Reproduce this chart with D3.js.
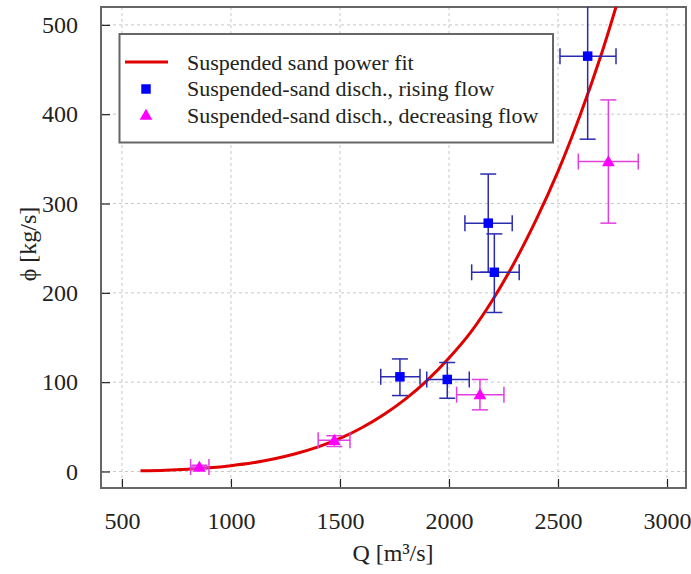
<!DOCTYPE html>
<html><head><meta charset="utf-8">
<script src="https://cdn.jsdelivr.net/npm/d3@7/dist/d3.min.js"></script>
<style>body{margin:0;background:#fff}</style>
</head><body><svg id="c" width="691" height="574"></svg>
<script>
// Power fit curve
const fitQ   = [585, 700, 800, 900, 1000, 1100, 1200, 1300, 1400, 1500, 1600, 1700, 1800, 1900, 2000, 2100, 2200, 2300, 2400, 2500, 2600, 2700, 2800];
const fitPhi = [0.7, 1.4, 2.5, 4.1, 6.5, 9.7, 14.2, 20.1, 27.5, 37, 49, 63.5, 81, 102, 127, 156, 192, 234, 282, 336, 398, 468, 548];
// Rising flow
const riseQ    = [2636, 2180, 2208, 1775, 1992];
const riseQlo  = [2509, 2073, 2104, 1687, 1898];
const riseQhi  = [2766, 2290, 2322, 1867, 2093];
const risePhi  = [465, 278, 223, 106, 103];
const risePlo  = [372, 223, 178, 85, 82];
const risePhi_hi = [558, 333, 266, 126, 122];
// Decreasing flow
const decQ    = [2731, 2142, 1474, 855];
const decQlo  = [2593, 2035, 1400, 815];
const decQhi  = [2868, 2252, 1546, 899];
const decPhi  = [347, 86, 35, 5];
const decPlo  = [278, 69, 28, 3];
const decPhi_hi = [416, 103, 40, 7];
const xTicks = [500, 1000, 1500, 2000, 2500, 3000];
const yTicks = [0, 100, 200, 300, 400, 500];
const legendLabels = ["Suspended sand power fit", "Suspended-sand disch., rising flow", "Suspended-sand disch., decreasing flow"];

const FONT = "'Liberation Serif', 'DejaVu Serif', serif";
const L = 101, R = 686, T = 7, B = 488;
const x = d3.scaleLinear().domain([404, 3087]).range([L, R]);
const y = d3.scaleLinear().domain([-18.5, 520]).range([B, T]);
const svg = d3.select("#c");

svg.append("clipPath").attr("id","clip").append("rect").attr("x",L).attr("y",T).attr("width",R-L).attr("height",B-T);

// grid
const grid = svg.append("g").attr("stroke","#c8c8c8").attr("stroke-width",1).attr("stroke-dasharray","3,3");
xTicks.forEach(t => grid.append("line").attr("x1",x(t)).attr("x2",x(t)).attr("y1",T).attr("y2",B));
yTicks.forEach(t => grid.append("line").attr("y1",y(t)).attr("y2",y(t)).attr("x1",L).attr("x2",R));

// axes
const xa = svg.append("g").attr("transform",`translate(0,${B})`)
  .call(d3.axisBottom(x).tickValues(xTicks).tickSize(-9).tickPadding(24).tickFormat(d3.format("d")));
const ya = svg.append("g").attr("transform",`translate(${L},0)`)
  .call(d3.axisLeft(y).tickValues(yTicks).tickSize(-9).tickPadding(23).tickFormat(d3.format("d")));
[xa, ya].forEach(a => { a.attr("font-family", null).attr("font-size", null);
  a.select(".domain").remove(); a.selectAll("line").attr("stroke","#222").attr("stroke-width",1.2);
  a.selectAll("text").style("font-family",FONT).style("font-size","24px").attr("fill","#222"); });

// frame
svg.append("rect").attr("x",L).attr("y",T).attr("width",R-L).attr("height",B-T).attr("fill","none").attr("stroke","#666").attr("stroke-width",2);

const plot = svg.append("g").attr("clip-path","url(#clip)");

// fit curve
const fit = fitQ.map((q,i)=>[q, fitPhi[i]]);
plot.append("path").datum(fit).attr("fill","none").attr("stroke","#e00000").attr("stroke-width",3)
  .attr("d", d3.line().x(d=>x(d[0])).y(d=>y(d[1])).curve(d3.curveCatmullRom));

function errorBars(Q, Qlo, Qhi, P, Plo, Phi, col) {
  const g = plot.append("g").attr("stroke",col).attr("stroke-width",1.5).attr("fill","none");
  const cap = 8;
  Q.forEach((q,i) => {
    g.append("line").attr("x1",x(Qlo[i])).attr("x2",x(Qhi[i])).attr("y1",y(P[i])).attr("y2",y(P[i]));
    g.append("line").attr("x1",x(Qlo[i])).attr("x2",x(Qlo[i])).attr("y1",y(P[i])-cap).attr("y2",y(P[i])+cap);
    g.append("line").attr("x1",x(Qhi[i])).attr("x2",x(Qhi[i])).attr("y1",y(P[i])-cap).attr("y2",y(P[i])+cap);
    g.append("line").attr("x1",x(q)).attr("x2",x(q)).attr("y1",y(Plo[i])).attr("y2",y(Phi[i]));
    g.append("line").attr("x1",x(q)-cap).attr("x2",x(q)+cap).attr("y1",y(Plo[i])).attr("y2",y(Plo[i]));
    g.append("line").attr("x1",x(q)-cap).attr("x2",x(q)+cap).attr("y1",y(Phi[i])).attr("y2",y(Phi[i]));
  });
}
errorBars(riseQ, riseQlo, riseQhi, risePhi, risePlo, risePhi_hi, "#2b2bb0");
errorBars(decQ, decQlo, decQhi, decPhi, decPlo, decPhi_hi, "#e040e0");

const sq = d3.symbol().type(d3.symbolSquare).size(90);
const tri = d3.symbol().type(d3.symbolTriangle).size(70);
riseQ.forEach((q,i)=> plot.append("path").attr("d",sq()).attr("fill","#0000ff").attr("transform",`translate(${x(q)},${y(risePhi[i])})`));
decQ.forEach((q,i)=> plot.append("path").attr("d",tri()).attr("fill","#ff00ff").attr("transform",`translate(${x(q)},${y(decPhi[i])+1})`));

// legend
const lg = svg.append("g");
lg.append("rect").attr("x",119.5).attr("y",34).attr("width",433.5).attr("height",108.5).attr("fill","#fff").attr("stroke","#666").attr("stroke-width",2);
lg.append("line").attr("x1",125).attr("x2",168).attr("y1",62).attr("y2",62).attr("stroke","#e00000").attr("stroke-width",3);
lg.append("path").attr("d",sq()).attr("fill","#0000ff").attr("transform","translate(146,89)");
lg.append("path").attr("d",tri()).attr("fill","#ff00ff").attr("transform","translate(146,116)");
legendLabels.forEach((t,i)=> lg.append("text").attr("x",187).attr("y",62+i*26.5).attr("dy","0.35em")
  .style("font-family",FONT).style("font-size","22px").attr("fill","#222").text(t));

// axis labels
svg.append("text").attr("x",393).attr("y",553).attr("dy","0.35em").attr("text-anchor","middle")
  .style("font-family",FONT).style("font-size","24px").attr("fill","#222").text("Q [m³/s]");
svg.append("text").attr("transform","translate(28,244) rotate(-90)").attr("dy","0.35em").attr("text-anchor","middle")
  .style("font-family",FONT).style("font-size","24px").attr("fill","#222").text("ϕ [kg/s]");
</script></body></html>
